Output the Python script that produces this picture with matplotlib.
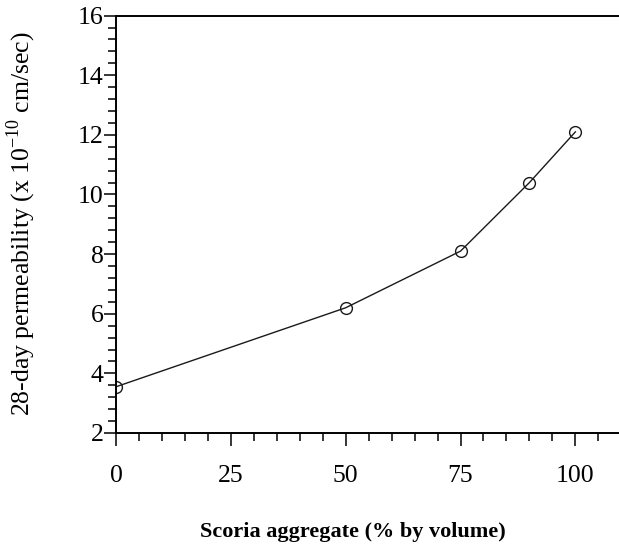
import matplotlib.pyplot as plt
from matplotlib.ticker import MultipleLocator

# data
scoria_pct = [0, 50, 75, 90, 100]
permeability = [3.55, 6.2, 8.1, 10.4, 12.1]

plt.rcParams['font.family'] = ['Liberation Serif', 'DejaVu Serif']
plt.rcParams['mathtext.fontset'] = 'custom'
plt.rcParams['mathtext.rm'] = 'Liberation Serif'

fig = plt.figure(figsize=(6.19, 5.46), dpi=100)
ax = fig.add_axes([0.1874, 0.207, 0.8126, 0.7644])

ax.plot(scoria_pct, permeability, color="#1a1a1a", linewidth=1.0,
        marker="o", markersize=8.5, markerfacecolor="none",
        markeredgecolor="#1a1a1a", markeredgewidth=1.0)

ax.set_xlim(0, 109.5)
ax.set_ylim(2, 16)
ax.xaxis.set_major_locator(MultipleLocator(25))
ax.xaxis.set_minor_locator(MultipleLocator(5))
ax.yaxis.set_major_locator(MultipleLocator(2))
ax.yaxis.set_minor_locator(MultipleLocator(0.4))

for side in ["left", "bottom", "top"]:
    ax.spines[side].set_linewidth(1.4)
ax.spines["right"].set_visible(False)

ax.tick_params(axis="both", which="major", direction="out", length=9,
               width=1.1, labelsize=18.5)
ax.tick_params(axis="both", which="minor", direction="out", length=5.5,
               width=1.1)
ax.tick_params(axis="x", which="major", pad=14)
ax.tick_params(axis="y", which="major", pad=0)

ax.set_xlabel("Scoria aggregate (% by volume)", fontsize=16,
              fontweight="bold")
ax.set_ylabel("28-day permeability (x 10$^{\\mathrm{-10}}$ cm/sec)",
              fontsize=18.5)
ax.xaxis.set_label_coords(0.471, -0.213)
ax.yaxis.set_label_coords(-0.155, 0.502)

fig.savefig("out.png", dpi=100)
